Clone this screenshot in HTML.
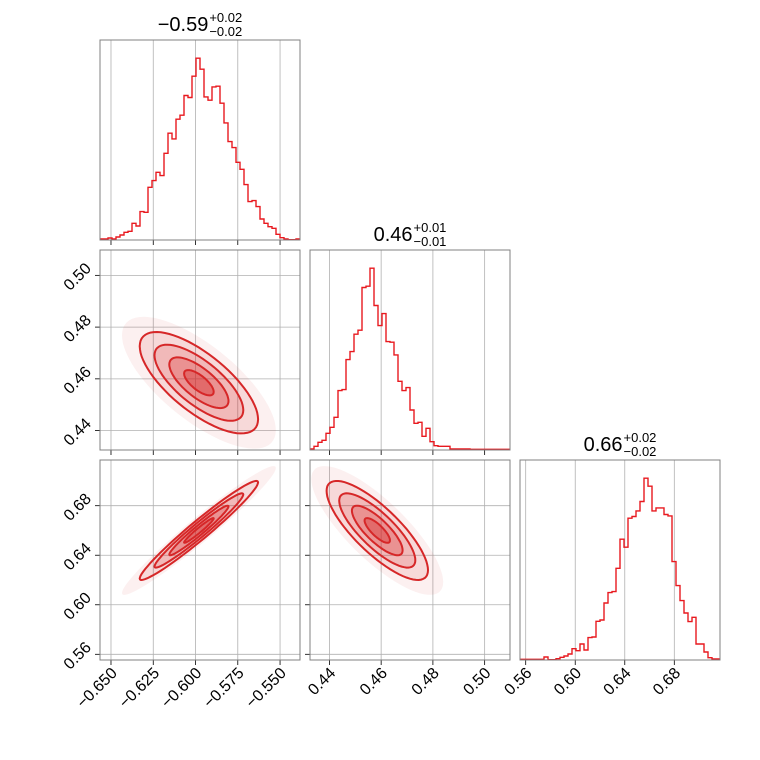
<!DOCTYPE html>
<html><head><meta charset="utf-8"><style>
body{margin:0;background:#fff}
svg{display:block;font-family:"Liberation Sans","DejaVu Sans",sans-serif}
</style></head><body>
<svg id="c" width="760" height="760" viewBox="0 0 760 760"></svg>
<script>
// ---- data ----
const histX = [3,3,6,3,9,15,23,26,50,42,85,83,158,178,203,193,260,320,303,362,374,433,427,491,545,512,429,419,459,461,410,351,295,277,233,212,166,115,118,100,63,50,40,35,17,7,3,1,1,3];
const histY = [3,11,23,29,50,68,98,178,181,271,295,347,359,487,491,545,433,373,409,325,323,285,206,178,187,120,80,83,41,65,25,13,11,11,11,3,3,3,3,3,2,2,2,2,2,2,2,2,2,2];
const histZ = [2,2,2,2,2,2,9,1,1,4,8,12,18,34,28,48,30,67,69,116,120,171,202,205,275,362,338,425,430,447,475,545,521,447,456,456,436,432,295,223,178,141,115,128,48,48,24,7,3,3];
const rangeX = [-0.6565,-0.5382], rangeY = [0.4325,0.5098], rangeZ = [0.5554,0.7169];
const ticksX = [-0.650,-0.625,-0.600,-0.575,-0.550];
const tickLabelsX = ["\u22120.650","\u22120.625","\u22120.600","\u22120.575","\u22120.550"];
const ticksY = [0.44,0.46,0.48,0.50];
const tickLabelsY = ["0.44","0.46","0.48","0.50"];
const ticksZ = [0.56,0.60,0.64,0.68];
const tickLabelsZ = ["0.56","0.60","0.64","0.68"];
const means = [-0.598,0.4585,0.660];
const sigmas = [0.0175,0.0098,0.020];
const corrXY = -0.72, corrXZ = 0.97, corrYZ = -0.80;
const levels = [0.5,1,1.5,2];
const titles = [["\u22120.59","+0.02","\u22120.02"],["0.46","+0.01","\u22120.01"],["0.66","+0.02","\u22120.02"]];
// ---- layout ----
const NS="http://www.w3.org/2000/svg", svg=document.getElementById('c');
const colX=[100,310,520], rowY=[40,250,460], S=200, RED="#d62728";
function el(t,a,p){const e=document.createElementNS(NS,t);for(const k in a)e.setAttribute(k,a[k]);(p||svg).appendChild(e);return e;}
const ranges=[rangeX,rangeY,rangeZ], ticks=[ticksX,ticksY,ticksZ], tlabels=[tickLabelsX,tickLabelsY,tickLabelsZ], hists=[histX,histY,histZ];
function sx(i,col,v){const r=ranges[i];return colX[col]+(v-r[0])/(r[1]-r[0])*S;}
function sy(i,row,v){const r=ranges[i];return rowY[row]+S-(v-r[0])/(r[1]-r[0])*S;}
function corr(i,j){const k=i+''+j;return k=='01'?corrXY:k=='02'?corrXZ:corrYZ;}
for(let row=0;row<3;row++)for(let col=0;col<=row;col++){
  const g=el('g',{});
  
  
  const x0=colX[col],y0=rowY[row];
  el('rect',{x:x0,y:y0,width:S,height:S,fill:'#fff'},g);
  ticks[col].forEach(t=>{const x=sx(col,col,t);el('line',{x1:x,x2:x,y1:y0,y2:y0+S,stroke:'#b0b0b0','stroke-width':0.8},g);
    el('line',{x1:x,x2:x,y1:y0+S,y2:y0+S+5,stroke:'#000','stroke-width':0.8},g);});
  if(row!==col){
    ticks[row].forEach(t=>{const y=sy(row,row,t);el('line',{x1:x0,x2:x0+S,y1:y,y2:y,stroke:'#b0b0b0','stroke-width':0.8},g);
      el('line',{x1:x0-5,x2:x0,y1:y,y2:y,stroke:'#000','stroke-width':0.8},g);});
    const cp=el('g',{},g);
    
    
    const rho=corr(col,row);
    const mk=(k)=>{let d='';for(let a=0;a<=72;a++){const t=a/72*2*Math.PI;
      const vx=means[col]+sigmas[col]*k*Math.cos(t);
      const vy=means[row]+sigmas[row]*k*(rho*Math.cos(t)+Math.sqrt(1-rho*rho)*Math.sin(t));
      d+=(a?'L':'M')+sx(col,col,vx).toFixed(1)+','+sy(row,row,vy).toFixed(1);}return d+'Z';};
    const halo=el('path',{d:mk(2.6),fill:RED,'fill-opacity':0.07},cp);
    
    
    const fills=[0.6,0.45,0.3,0.18];
    levels.slice().reverse().forEach((k,i)=>{
      const p=el('path',{d:mk(k),fill:RED,'fill-opacity':fills[3-i]*0.6,stroke:RED,'stroke-width':2},cp);
      
      
    });
  } else {
    const h=hists[col],mx=Math.max(...h),n=h.length;
    let d='';
    h.forEach((c,i)=>{const xa=x0+i*S/n,xb=x0+(i+1)*S/n,y=y0+S-c/(mx*1.1)*S;d+=(i?'L':'M')+xa.toFixed(1)+','+y.toFixed(1)+'L'+xb.toFixed(1)+','+y.toFixed(1);});
    const p=el('path',{d:d,fill:'none',stroke:'#e8191f','stroke-width':1.4},g);
    
    
    const t=titles[col],cx=x0+S/2;
    const tt=el('text',{x:0,y:y0-9,'font-size':20,fill:'#000'},g);
    tt.textContent=t[0];
    
    
    const sp=el('text',{x:0,y:y0-18,'font-size':13},g);sp.textContent=t[1];
    
    
    const sb=el('text',{x:0,y:y0-4,'font-size':13},g);sb.textContent=t[2];
    
    
    const w=tt.getComputedTextLength(), ws=Math.max(sp.getComputedTextLength(),sb.getComputedTextLength());
    const start=cx-(w+ws+1)/2;
    tt.setAttribute('x',start);sp.setAttribute('x',start+w+1);sb.setAttribute('x',start+w+1);
  }
  el('rect',{x:x0,y:y0,width:S,height:S,fill:'none',stroke:'#808080','stroke-width':1},g);
  if(row===2){ticks[col].forEach((t,i)=>{const x=sx(col,col,t);
    const tl=el('text',{x:0,y:0,'font-size':16,'text-anchor':'end',transform:`translate(${x+7},${y0+S+14}) rotate(-45)`},g);
    tl.textContent=tlabels[col][i];
    
    });}
  if(col===0&&row>0){ticks[row].forEach((t,i)=>{const y=sy(row,row,t);
    const tl=el('text',{x:0,y:0,'font-size':16,'text-anchor':'end',transform:`translate(${x0-8},${y-6}) rotate(-45)`},g);
    tl.textContent=tlabels[row][i];
    
    });}
}
</script>
</body></html>
